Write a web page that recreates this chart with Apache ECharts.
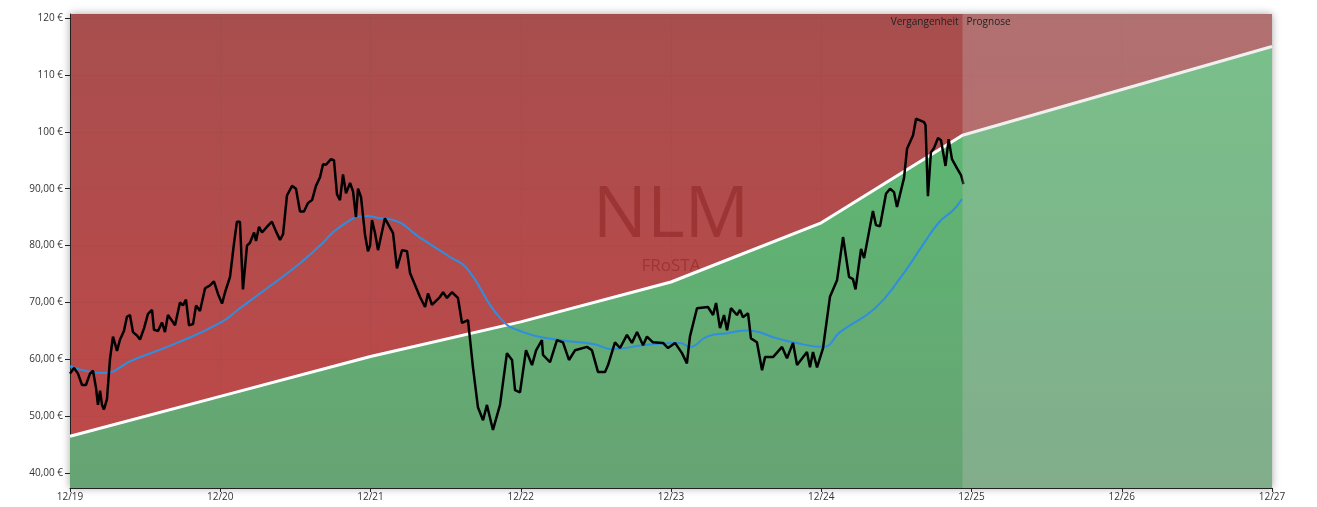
<!DOCTYPE html>
<html><head><meta charset="utf-8">
<script src="https://cdn.jsdelivr.net/npm/echarts@6/dist/echarts.min.js"></script>
<style>html,body{margin:0;padding:0;background:#fff}#c{width:1317px;height:507px}</style>
</head><body><div id="c"></div>
<script>
// time in years since 12/2019
const xTickLabels = ['12/19','12/20','12/21','12/22','12/23','12/24','12/25','12/26','12/27'];
const forecastStart = 5.94;
const fairValue = [[0,46.5],[1,53.5],[2,60.5],[3,66.6],[4,73.6],[5,84],[5.94,99.4],[8,115]];
const price = [[0,57.5],[.027,58.5],[.053,57.5],[.080,55.5],[.106,55.5],[.133,57.5],[.153,58],[.173,55],[.186,52],[.200,54.5],[.213,52],[.226,51.2],[.246,53],[.266,60],[.286,64],[.313,61.5],[.333,63.5],[.359,65],[.379,67.5],[.399,67.8],[.419,64.8],[.446,64.2],[.466,63.5],[.493,65.5],[.519,68],[.546,68.7],[.559,65.2],[.586,65],[.612,66.5],[.632,64.8],[.652,67.8],[.679,66.8],[.699,66],[.732,70],[.752,69.5],[.772,70.5],[.792,66],[.819,66.2],[.839,69.5],[.865,68.5],[.899,72.5],[.932,73],[.958,73.7],[.985,71.5],[1.012,69.8],[1.032,71.8],[1.065,74.5],[1.092,80.5],[1.111,84.2],[1.131,84.2],[1.151,72.3],[1.178,80],[1.198,80.5],[1.225,82.3],[1.238,80.8],[1.258,83.3],[1.278,82.3],[1.318,83.5],[1.344,84.2],[1.371,82.5],[1.398,81],[1.418,82],[1.444,88.8],[1.478,90.5],[1.504,90],[1.531,86],[1.557,86],[1.584,87.5],[1.611,88],[1.637,90.5],[1.664,92],[1.684,94.3],[1.704,94.2],[1.737,95.2],[1.757,95],[1.777,89],[1.797,88],[1.817,92.5],[1.837,89.2],[1.864,91],[1.884,89.5],[1.903,85],[1.917,90],[1.937,88.5],[1.963,82],[1.983,79],[1.997,80],[2.010,84.5],[2.030,82.2],[2.050,79.2],[2.096,84.8],[2.150,82.2],[2.176,76],[2.210,79.2],[2.243,79],[2.263,75.2],[2.329,71],[2.363,69.2],[2.383,71.6],[2.409,69.6],[2.463,71],[2.483,71.8],[2.509,70.8],[2.542,71.8],[2.582,70.8],[2.609,66.4],[2.649,66.9],[2.682,58.6],[2.715,51.6],[2.749,49.3],[2.775,52],[2.815,47.6],[2.862,52],[2.908,61.1],[2.942,59.9],[2.962,54.6],[2.995,54.2],[3.035,61.6],[3.075,59],[3.102,61.6],[3.141,63.4],[3.148,60.8],[3.195,59.5],[3.241,63.4],[3.281,63],[3.321,59.9],[3.361,61.6],[3.441,62.2],[3.474,61.6],[3.514,57.8],[3.561,57.8],[3.581,59],[3.627,63],[3.661,62],[3.707,64.3],[3.740,62.9],[3.774,64.8],[3.814,62.5],[3.840,64],[3.880,63],[3.947,62.9],[3.980,62],[4.027,62.9],[4.073,61.1],[4.106,59.3],[4.126,64],[4.173,69],[4.246,69.2],[4.280,67.8],[4.300,69.9],[4.326,65.5],[4.353,67.8],[4.373,65.1],[4.399,69],[4.439,67.8],[4.459,68.7],[4.479,67.4],[4.513,68.1],[4.532,63.7],[4.572,63],[4.606,58.1],[4.626,60.4],[4.679,60.4],[4.739,62.2],[4.772,60.2],[4.812,62.9],[4.839,59],[4.905,61.3],[4.925,58.6],[4.945,61.3],[4.972,58.6],[5.012,62],[5.058,71],[5.105,73.9],[5.145,81.5],[5.185,74.5],[5.211,74.1],[5.228,72.3],[5.265,79.4],[5.285,77.8],[5.344,86.1],[5.364,83.6],[5.391,83.4],[5.431,89.1],[5.458,90],[5.484,89.4],[5.504,86.8],[5.551,91.9],[5.571,97],[5.611,99.4],[5.631,102.3],[5.684,101.7],[5.694,101.2],[5.710,88.7],[5.730,96.4],[5.750,97.1],[5.777,98.9],[5.797,98.5],[5.827,94],[5.848,98.7],[5.870,95.2],[5.903,93.6],[5.930,92.4],[5.947,90.8]];
const movingAvg = [[0,58.8],[.220,57.6],[.419,59.9],[.712,62.9],[.998,66.4],[1.131,69],[1.311,72.5],[1.531,76.9],[1.664,80],[1.797,83.3],[1.977,85.2],[2.063,84.8],[2.150,84.5],[2.329,81.4],[2.529,78],[2.642,76],[2.862,67.3],[3.015,64.8],[3.261,63.4],[3.481,62.7],[3.614,61.8],[3.814,62.5],[4.060,62.9],[4.126,62.2],[4.240,64],[4.373,64.6],[4.506,65.1],[4.706,63.7],[4.812,63],[5.012,62.2],[5.125,64.8],[5.358,69],[5.531,74.5],[5.671,79.9],[5.784,84.1],[5.877,86.2],[5.937,88.2]];

const chart = echarts.init(document.getElementById('c'));
const fmtY = v => v >= 100 ? v + ' €' : v.toFixed(2).replace('.', ',') + ' €';
chart.setOption({
  animation:false,
  textStyle:{fontFamily:'"Open Sans", "DejaVu Sans", sans-serif'},
  grid:{left:70,right:45,top:14,bottom:19,show:true,borderWidth:0,
    backgroundColor:new echarts.graphic.LinearGradient(0,0,0,1,[{offset:0,color:'#a84e4e'},{offset:1,color:'#c04848'}]),
    shadowBlur:8,shadowColor:'rgba(0,0,0,0.35)'},
  xAxis:{type:'value',min:0,max:8,interval:1,
    axisLine:{lineStyle:{color:'#222'}},axisTick:{length:4,lineStyle:{color:'#222'}},
    axisLabel:{color:'#333',fontSize:10,margin:4,formatter:v=>xTickLabels[Math.round(v)]},
    splitLine:{show:true,lineStyle:{type:'dotted',color:'rgba(0,0,0,0.05)'}}},
  yAxis:{type:'value',min:37.4,max:120.7,splitNumber:8,
    axisLine:{show:true,lineStyle:{color:'#222'}},axisTick:{show:true,length:5,lineStyle:{color:'#222'}},
    axisLabel:{color:'#333',fontSize:10,margin:7,formatter:fmtY,showMinLabel:false,showMaxLabel:false},
    splitLine:{show:true,lineStyle:{type:'dotted',color:'rgba(0,0,0,0.05)'}}},
  series:[
    {type:'line',data:fairValue,symbol:'none',z:2,
      lineStyle:{color:'#fff',width:3},
      areaStyle:{origin:'start',opacity:1,color:new echarts.graphic.LinearGradient(0,0,0,1,[{offset:0,color:'#5bbc72'},{offset:1,color:'#67a374'}])}},
    {type:'line',data:movingAvg,symbol:'none',smooth:true,z:3,lineStyle:{color:'#2f8ee0',width:2}},
    {type:'line',data:price,symbol:'none',z:4,lineStyle:{color:'#000',width:2.5}}
  ]
});
const p0 = chart.convertToPixel({gridIndex:0},[forecastStart,120.7]);
const p1 = chart.convertToPixel({gridIndex:0},[8,37.4]);
const c = chart.convertToPixel({gridIndex:0},[4,0])[0];
chart.setOption({graphic:[
  {type:'text',x:c,y:180,z:1,style:{text:'NLM',align:'center',font:'72px "Open Sans", sans-serif',fill:'rgba(140,35,35,0.55)'}},
  {type:'text',x:c,y:258,z:1,style:{text:'FRoSTA',align:'center',font:'17px "Open Sans", sans-serif',fill:'rgba(140,35,35,0.55)'}},
  {type:'rect',z:50,silent:true,shape:{x:p0[0],y:p0[1],width:p1[0]-p0[0],height:p1[1]-p0[1]},style:{fill:'rgba(200,200,200,0.28)'}},
  {type:'text',x:p0[0]-4,y:17,z:60,style:{text:'Vergangenheit',align:'right',font:'10px "Open Sans", sans-serif',fill:'#222'}},
  {type:'text',x:p0[0]+4,y:17,z:60,style:{text:'Prognose',align:'left',font:'10px "Open Sans", sans-serif',fill:'#222'}}
]});
</script></body></html>
